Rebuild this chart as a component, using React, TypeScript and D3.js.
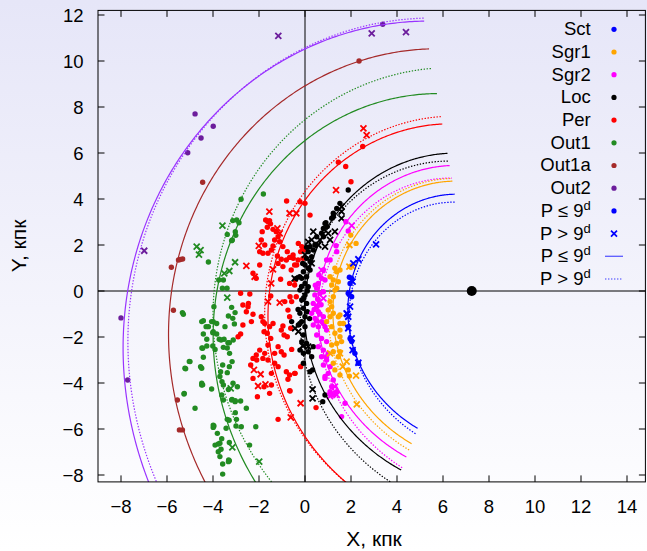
import React from 'react';
import * as d3 from 'd3';

const W = 647;
const H = 551;
const GC_X = 7.25; // galactic centre, kpc
const FONT = 'Liberation Sans, Arial, Helvetica, sans-serif';

const armNames = ['Sct', 'Sgr1', 'Sgr2', 'Loc', 'Per', 'Out1', 'Out1a', 'Out2'];
const pointColors = ['#0000ff', '#ffa500', '#ff00ff', '#000000', '#ff0000', '#228b22', '#a52a2a', '#6c1d9c'];
const lineColors = ['#0000ff', '#ffa500', '#ff00ff', '#000000', '#ff0000', '#228b22', '#a52a2a', '#9933ff'];

// log-spiral fits: [R at azimuth 0 (kpc), tan(pitch)]
const solidFits = [[5.32, 0.157], [5.97, 0.149], [6.64, 0.13], [7.22, 0.1234], [8.79, 0.126], [11.08, 0.172], [13.05, 0.143], [14.96, 0.163]];
const dottedFits = [[5.22, 0.205], [6.17, 0.155], [6.54, 0.195], [7.34, 0.1766], [8.95, 0.108], [11.2, 0.0935], null, [14.79, 0.147]];
const phiRange = [-68.5, 80]; // degrees

const xTicks = [-8, -6, -4, -2, 0, 2, 4, 6, 8, 10, 12, 14];
const yTicks = [-8, -6, -4, -2, 0, 2, 4, 6, 8, 10, 12];

// P <= 9d (dots) and P > 9d (crosses), [x, y] in kpc
const sctShort = [[2.03, 0.55], [1.96, 0.33], [1.88, -0.1], [2.03, -0.25], [1.93, 0.6], [1.96, -2.06], [2.03, -2.2], [2.1, -2.57], [2.17, -2.71], [2.32, -3.14], [1.88, -1.55]];
const sctLong = [[2.32, 1.38], [2.1, 1.2], [3.09, 2.03], [1.96, -0.68], [1.81, -0.97], [1.88, -1.12], [2.07, 0.41], [1.96, -0.1], [1.84, -1.0], [1.88, -1.62], [2.03, -2.06], [2.07, -2.57], [2.32, -3.12]];

const sgr1Short = [[1.99, 2.43], [2.22, 2.07], [1.96, 1.06], [1.3, 0.99], [1.38, 0.84], [1.52, 0.91], [1.09, 0.62], [1.23, 0.48], [1.45, 0.4], [1.16, 0.26], [1.38, 0.12], [1.23, -0.25], [1.09, -0.46], [1.01, -0.83], [1.16, -0.68], [1.09, -1.12], [1.23, -0.97], [1.45, -1.12], [1.52, -1.41], [0.94, -1.33], [1.16, -1.55], [1.16, -2.35], [1.38, -2.28], [1.52, -2.64], [1.23, -2.64], [1.45, -2.86], [1.23, -3.14], [1.3, -3.43], [1.52, -3.65], [1.88, -3.43], [1.52, -1.7], [1.67, -1.41], [1.3, -1.84], [1.3, 0.04], [1.52, -1.04], [1.52, -1.99], [1.59, -2.2], [1.93, -3.7]];
const sgr1Long = [[1.93, 2.0], [2.07, 1.06], [1.93, 1.06], [1.09, -2.71], [2.25, -4.93], [1.52, -2.71], [1.64, -3.29], [1.81, -3.07], [2.22, -3.68]];

const sgr2Short = [[1.88, 2.61], [1.38, 1.71], [1.09, 1.35], [0.8, 0.91], [0.72, 0.55], [0.58, 0.33], [0.51, 0.12], [0.43, -0.17], [0.65, -0.1], [0.8, -0.03], [0.87, 0.48], [0.36, -0.54], [0.51, -0.68], [0.29, -0.97], [0.43, -1.19], [0.58, -0.9], [0.72, -1.33], [0.36, -1.48], [0.8, -1.12], [0.87, -1.55], [0.58, -1.55], [0.8, -1.41], [0.94, -1.7], [0.51, -1.91], [0.72, -2.06], [0.94, -2.2], [0.58, -2.42], [0.8, -2.57], [1.01, -2.71], [0.72, -2.86], [0.94, -3.0], [0.8, -3.22], [1.09, -3.29], [1.01, -3.58], [0.87, -3.8], [1.23, -3.87], [1.16, -4.16], [1.38, -4.38], [1.09, -4.38], [1.59, -5.46], [0.87, -3.72], [1.23, -4.52], [1.74, -4.88], [0.94, -2.86], [1.78, 3.01], [1.35, 1.97], [0.94, 1.35], [0.6, 0.7], [0.45, 0.25], [0.55, -0.35], [0.7, -0.6], [0.4, -0.8], [0.65, -1.0], [0.5, -1.3]];
const sgr2Long = [[2.03, 2.84], [0.72, 0.91], [0.8, -0.32], [1.3, -4.16], [1.16, -4.45], [1.38, -4.52], [1.09, -4.57], [0.6, -0.5]];

const locShort = [[1.88, 4.39], [1.52, 3.81], [1.38, 3.59], [1.23, 3.38], [1.16, 3.16], [0.91, 2.97], [0.97, 2.8], [0.8, 2.72], [0.72, 2.51], [0.51, 2.36], [0.8, 2.36], [0.43, 2.0], [0.22, 1.93], [0.36, 1.78], [0.14, 1.71], [0.29, 1.49], [0.07, 1.42], [0.22, 1.28], [0.0, 1.13], [0.14, 0.99], [-0.07, 0.84], [0.07, 0.62], [-0.14, 0.55], [0.0, 0.33], [0.14, 0.19], [-0.22, 0.04], [0.0, -0.17], [-0.14, -0.39], [0.07, -0.54], [-0.07, -0.75], [-0.22, -0.97], [0.0, -1.12], [-0.14, -1.33], [-0.29, -1.48], [0.22, 0.91], [-0.58, -1.33], [-0.38, 0.55], [-0.23, 0.62], [-0.22, -1.41], [0.0, -1.55], [-0.07, -1.91], [-0.14, -2.2], [0.07, -2.28], [-0.22, -2.57], [-0.07, -2.71], [0.14, -2.64], [0.36, -2.42], [0.29, -2.86], [-0.07, -3.14], [0.33, -3.43], [0.22, -3.51], [0.87, -4.52], [0.77, -4.81], [0.87, 2.94], [1.23, 3.23], [0.07, 1.9], [-0.1, 1.2], [0.1, 0.0], [-0.05, -0.3], [0.1, -0.9], [-0.3, -0.8], [0.2, -1.2], [-0.15, 0.2]];
const locLong = [[1.59, 3.67], [1.59, 3.45], [1.59, 3.16], [1.3, 2.58], [1.09, 2.22], [0.65, 2.22], [0.36, 2.58], [0.29, 2.22], [0.14, 2.14], [0.58, 2.0], [0.87, 1.93], [0.0, 1.57], [0.29, 1.2], [1.01, 2.51], [-0.45, 0.55], [-0.43, -1.62], [-0.29, -1.77], [-0.07, -2.35], [0.14, -2.42], [0.33, -4.28], [0.33, -4.67], [-0.1, -2.39]];

const perShort = [[-0.8, 3.91], [-0.22, 3.88], [0.0, 3.81], [0.22, 3.3], [-1.71, 3.09], [-1.62, 3.02], [-1.54, 3.06], [-1.5, 2.92], [-1.64, 2.77], [-1.86, 2.58], [-1.39, 2.68], [-1.25, 2.58], [-1.17, 2.36], [-1.32, 2.22], [-1.1, 2.14], [-0.96, 1.93], [-1.46, 1.78], [-1.61, 1.64], [-1.83, 1.64], [-1.97, 1.71], [-1.39, 1.96], [-0.77, 1.71], [-0.67, 1.46], [-0.52, 1.57], [-0.81, 1.35], [-1.03, 1.38], [-1.2, 1.52], [-1.17, 1.2], [-0.96, 1.06], [-0.6, 0.91], [-0.45, 1.13], [-0.3, 1.35], [-0.19, 1.71], [-0.09, 1.42], [-1.97, 1.13], [-2.26, 0.77], [-2.12, 0.55], [-1.06, 0.51], [-0.67, 0.33], [-0.45, 0.26], [-1.9, 2.22], [-1.75, 2.0], [-0.29, 2.07], [-0.14, 1.93], [-0.07, 1.78], [-0.51, 1.42], [-0.36, 1.13], [-0.43, 0.48],
  [-2.8, -0.1], [-2.4, -0.13], [-2.7, -0.61], [-2.46, -0.54], [-2.48, -0.68], [-2.55, -0.9], [-2.26, -1.01], [-2.33, -1.33], [-2.7, -1.48], [-1.9, -1.12], [-1.75, -1.41], [-1.49, -0.22], [-0.88, -0.46], [-0.74, -0.83], [-0.38, -0.25], [-1.39, -1.41], [-0.96, -1.52], [-0.67, -1.12], [-0.65, -0.25], [-0.58, -0.46],
  [-2.91, -1.99], [-2.8, -1.87], [-1.83, -1.33], [-1.54, -1.55], [-1.64, -1.84], [-1.78, -1.77], [-1.49, -2.06], [-1.03, -1.7], [-0.91, -1.91], [-0.77, -1.99], [-0.62, -1.62], [-1.97, -2.57], [-1.75, -2.71], [-1.61, -2.35], [-1.17, -2.42], [-1.03, -2.64], [-1.32, -2.71], [-0.91, -2.78], [-2.12, -2.78], [-2.26, -2.93], [-1.83, -2.93], [-1.61, -3.0], [-1.32, -3.14], [-1.17, -3.29], [-2.36, -3.22], [-1.46, -3.58], [-0.81, -3.51], [-0.45, -3.58], [-0.67, -3.65], [-0.19, -3.29], [-0.74, -3.84], [-2.26, -3.8], [-1.78, -4.16], [-1.46, -4.09], [-0.67, -4.33], [-1.54, -4.45], [-2.07, -4.6], [-1.17, -5.58], [-2.1, -3.0], [-0.58, -2.54], [-0.43, -3.58], [-0.65, -4.35], [0.48, -5.07],
  [2.51, 6.28], [1.45, 5.6], [1.77, 5.41], [2.0, 4.75]];
const perLong = [[-1.55, 3.45], [-0.67, 3.38], [-0.38, 3.38], [-1.2, 2.72], [-1.1, 2.51], [-2.01, 1.96], [-2.55, 1.09], [-2.19, 0.62], [-1.39, 0.94], [-1.47, 0.33], [-1.1, -0.51], [-1.61, -0.46], [-2.22, -3.43], [-1.93, -3.62], [-2.04, -4.13], [-1.72, -4.06], [-0.19, -4.88], [-0.62, -5.49], [2.54, 7.07], [2.68, 6.78], [1.35, 4.39]];

const out1Short = [[-2.78, 3.99], [-1.81, 4.22], [-4.2, 1.26], [-3.38, 2.46], [-3.19, 2.19], [-3.01, 2.42], [-3.14, 3.06], [-2.97, 3.09], [-2.87, 2.97], [-3.75, 0.48], [-3.59, 0.12], [-3.39, 0.12], [-3.55, 0.48], [-3.96, -0.68], [-3.19, -0.71], [-3.04, -0.94], [-3.33, -1.09], [-3.14, -1.19], [-3.07, -1.43], [-3.48, -1.55], [-3.99, -1.33], [-3.84, -1.41], [-4.2, -1.55], [-4.49, -1.33], [-4.42, -1.29], [-5.33, -0.94], [-5.29, -1.01], [-3.03, 2.58], [-3.16, 2.22],
  [-4.42, -1.87], [-4.01, -1.81], [-3.84, -1.87], [-4.27, -2.1], [-3.73, -2.1], [-3.52, -2.1], [-3.29, -2.25], [-3.12, -2.13], [-4.01, -2.39], [-3.91, -2.54], [-3.55, -2.45], [-3.38, -2.48], [-4.48, -2.48], [-4.42, -2.88], [-5.03, -3.06], [-5.19, -3.38], [-4.54, -3.29], [-3.58, -3.22], [-3.29, -3.29], [-3.67, -3.51], [-3.38, -3.55], [-3.7, -3.72], [-3.61, -3.94], [-4.49, -4.01], [-4.45, -4.08], [-4.06, -4.26], [-3.55, -4.09], [-3.33, -4.28], [-2.94, -4.16], [-3.62, -4.52], [-3.55, -4.74], [-3.19, -4.74], [-3.04, -4.81], [-5.25, -4.45], [-4.78, -5.1], [-3.38, -5.58], [-3.3, -5.62], [-3.96, -5.87], [-3.99, -5.93], [-3.0, -5.87], [-3.43, -5.97], [-3.81, -6.19], [-3.62, -6.42], [-3.29, -6.59], [-3.7, -6.62], [-3.77, -6.65], [-3.65, -6.88], [-3.7, -7.2], [-3.29, -7.38], [-3.58, -7.52], [-3.58, -7.96],
  [-3.13, -4.01], [-2.8, -4.78], [-3.03, -5.29], [-2.98, -5.58], [-2.77, -5.9], [-2.55, -5.1], [-2.14, -5.9], [-2.41, -6.7], [-3.32, -7.35], [-3.35, -2.25], [-3.28, -2.71], [-3.17, -3.07], [-3.17, -4.71], [-3.03, -4.77],
  [-5.0, -3.07], [-5.22, -3.36], [-4.49, -4.09], [-5.26, -4.48], [-3.99, -5.83], [-3.91, -6.7], [-3.77, -6.99], [-3.33, -7.42], [-4.45, -2.49], [-4.06, -1.33], [-4.3, -1.55], [-4.27, -2.39], [-3.65, -2.13], [-4.49, -3.36], [-3.99, -1.77]];
const out1Long = [[-3.59, 2.84], [-4.71, 1.93], [-4.54, 1.78], [-4.61, 1.58], [-3.04, 1.25], [-3.51, 0.77], [-3.29, 0.87], [-3.38, -0.29], [-3.23, -4.23], [-3.16, -6.8], [-1.99, -7.42]];

const out1aShort = [[2.35, 10.0], [-4.45, 4.73], [-5.81, 1.03], [-5.5, 1.35], [-5.32, 1.39], [-5.42, 1.37], [-5.72, -0.84], [-5.55, -4.74], [-5.46, -6.04], [-5.33, -6.04]];
const out1aLong = [];

const out2Short = [[-4.78, 7.7], [-4.52, 6.65], [-3.99, 7.16], [-5.1, 6.01], [3.38, 11.6], [-8.0, -1.17], [-7.71, -3.87]];
const out2Long = [[-6.99, 1.75], [-1.16, 11.09], [2.9, 11.2], [4.39, 11.26]];

const shortSets = [sctShort, sgr1Short, sgr2Short, locShort, perShort, out1Short, out1aShort, out2Short];
const longSets = [sctLong, sgr1Long, sgr2Long, locLong, perLong, out1Long, out1aLong, out2Long];

const x = d3.scaleLinear([-9, 14.8], [98, 645.4]);
const y = d3.scaleLinear([-8.3, 12.2], [481.9, 10.4]);
const [x0, x1] = x.range();
const [y0, y1] = y.range();

const minus = (v) => String(v).replace('-', '\u2212');

function spiral(fit) {
  const [r0, tanPitch] = fit;
  const phis = d3.range(phiRange[0], phiRange[1] + 0.001, 0.5);
  return phis.map((deg) => {
    const phi = (deg * Math.PI) / 180;
    const r = r0 * Math.exp(-phi * tanPitch);
    return [GC_X - r * Math.cos(phi), r * Math.sin(phi)];
  });
}

const line = d3.line().x((d) => x(d[0])).y((d) => y(d[1]));
const crossPath = 'M-3,-3L3,3M-3,3L3,-3';
const legendRows = armNames.length + 4;

export default function App() {
  const order = d3.range(armNames.length).reverse();
  return (
    <svg width={W} height={H} style={{ position: 'absolute', left: 0, top: 0 }} fontFamily={FONT}>
      <defs>
        <linearGradient id="bg" x1="0" y1="0" x2="0" y2="1">
          <stop offset="0" stopColor="#e6e6f8" />
          <stop offset="1" stopColor="#ffffff" />
        </linearGradient>
        <clipPath id="plot">
          <rect x={x0} y={y1} width={x1 - x0} height={y0 - y1} />
        </clipPath>
      </defs>
      <rect width={W} height={H} fill="url(#bg)" />

      {/* zero lines */}
      <line x1={x0} x2={x1} y1={y(0)} y2={y(0)} stroke="#000" strokeWidth={1} />
      <line x1={x(0)} x2={x(0)} y1={y0} y2={y1} stroke="#000" strokeWidth={1} />

      <g clipPath="url(#plot)">
        {order.map((i) => (
          <g key={'p' + i} fill={pointColors[i]} stroke={pointColors[i]}>
            {shortSets[i].map((d, j) => (
              <circle key={j} cx={x(d[0])} cy={y(d[1])} r={2.7} stroke="none" />
            ))}
            {longSets[i].map((d, j) => (
              <path key={'c' + j} d={crossPath} transform={`translate(${x(d[0])},${y(d[1])})`} fill="none" strokeWidth={1.8} />
            ))}
          </g>
        ))}
        {order.map((i) => (
          <g key={'l' + i} fill="none" stroke={lineColors[i]} strokeWidth={1.2}>
            <path d={line(spiral(solidFits[i]))} />
            {dottedFits[i] && <path d={line(spiral(dottedFits[i]))} strokeDasharray="1.4,1.6" />}
          </g>
        ))}
        <circle cx={x(GC_X)} cy={y(0)} r={5} fill="#000" />
      </g>

      {/* frame and ticks */}
      <rect x={x0} y={y1} width={x1 - x0} height={y0 - y1} fill="none" stroke="#000" strokeWidth={1} />
      {xTicks.map((t) => (
        <g key={'xt' + t}>
          <line x1={x(t)} x2={x(t)} y1={y0} y2={y0 - 6.5} stroke="#000" />
          <line x1={x(t)} x2={x(t)} y1={y1} y2={y1 + 6.5} stroke="#000" />
          <text x={x(t)} y={513} textAnchor="middle" fontSize={18.5}>{minus(t)}</text>
        </g>
      ))}
      {yTicks.map((t) => (
        <g key={'yt' + t}>
          <line x1={x0} x2={x0 + 6.5} y1={y(t)} y2={y(t)} stroke="#000" />
          <line x1={x1} x2={x1 - 6.5} y1={y(t)} y2={y(t)} stroke="#000" />
          <text x={83.5} y={y(t) + 6.6} textAnchor="end" fontSize={18.5}>{minus(t)}</text>
        </g>
      ))}

      <text x={374} y={546} textAnchor="middle" fontSize={21}>X, кпк</text>
      <text transform="translate(26,246) rotate(-90)" textAnchor="middle" fontSize={21}>Y, кпк</text>

      {/* legend */}
      <g fontSize={18.5}>
        {d3.range(legendRows).map((k) => {
          const cy = 29.3 + k * 22.7;
          let label;
          if (k < armNames.length) label = armNames[k];
          else {
            const sign = k % 2 === 0 ? 'P \u2264 9' : 'P > 9';
            label = (
              <>
                {sign}
                <tspan dy={-7} fontSize={13}>d</tspan>
              </>
            );
          }
          let symbol;
          if (k < armNames.length) symbol = <circle cx={614} cy={cy} r={2.6} fill={pointColors[k]} />;
          else if (k === 8) symbol = <circle cx={614} cy={cy} r={2.6} fill="#0000ff" />;
          else if (k === 9) symbol = <path d={crossPath} transform={`translate(614,${cy})`} stroke="#0000ff" strokeWidth={1.7} fill="none" />;
          else if (k === 10) symbol = <line x1={605} x2={623} y1={cy} y2={cy} stroke="#5a5aff" strokeWidth={1.3} />;
          else symbol = <line x1={605} x2={623} y1={cy} y2={cy} stroke="#3c3cff" strokeWidth={1.2} strokeDasharray="1.4,1.6" />;
          return (
            <g key={'lg' + k}>
              <text x={590.7} y={cy + 5.9} textAnchor="end">{label}</text>
              {symbol}
            </g>
          );
        })}
      </g>
    </svg>
  );
}
